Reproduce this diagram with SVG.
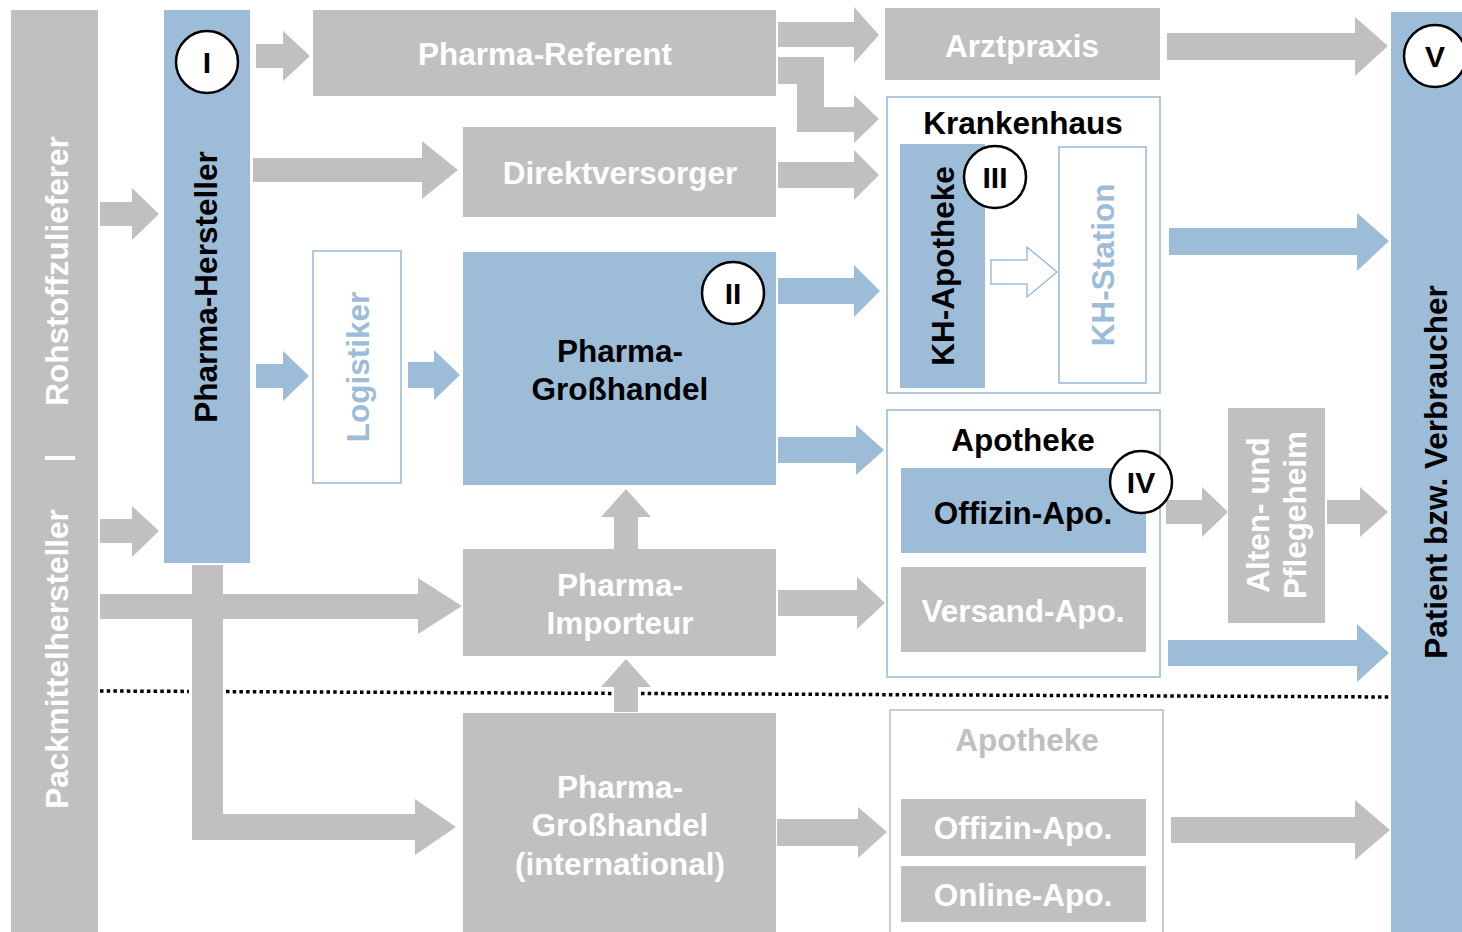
<svg xmlns="http://www.w3.org/2000/svg" width="1462" height="932" viewBox="0 0 1462 932">
  <style>
    text { font-family: "Liberation Sans", Arial, Helvetica, sans-serif; font-weight: bold; font-size: 31.5px; text-anchor: middle; }
    .g { fill: #c0c0c0; }
    .b { fill: #9dbcd8; }
    .frameB { fill: #ffffff; stroke: #9dbcd8; stroke-width: 1.6; }
    .frameG { fill: #ffffff; stroke: #c0c0c0; stroke-width: 1.6; }
    .tw { fill: #ffffff; }
    .tk { fill: #000000; }
    .tb { fill: #9dbcd8; }
    .tg { fill: #c0c0c0; }
    .badge circle { fill: #ffffff; stroke: #000000; stroke-width: 2.5; }
    .badge text { fill: #000000; font-size: 30px; }
    .dots { stroke: #000000; stroke-width: 3.5; stroke-dasharray: 3.5 3.2; fill: none; }
  </style>

  <!-- separator between domestic and international supply -->
  <g id="separator">
    <line class="dots" x1="100" y1="691" x2="189" y2="691.4"/>
    <line class="dots" x1="226" y1="691.6" x2="612" y2="693.4"/>
    <line class="dots" x1="641" y1="693.5" x2="1390" y2="697"/>
  </g>

  <!-- flow arrows -->
  <g id="connectors">
    <polygon class="g" points="100,202 132,202 132,188 159,214 132,240 132,226 100,226"/>
    <polygon class="g" points="100,519 132,519 132,506 159,531 132,557 132,543 100,543"/>
    <polygon class="g" points="256,44 283,44 283,31 310,56 283,81 283,68 256,68"/>
    <polygon class="g" points="253,158 422,158 422,141 458,170 422,199 422,182 253,182"/>
    <polygon class="b" points="256,364 283,364 283,351 309,376 283,401 283,388 256,388"/>
    <polygon class="b" points="408,362 434,362 434,350 460,375 434,400 434,388 408,388"/>
    <polygon class="g" points="100,594 418,594 418,578 462,606 418,634 418,619 100,619"/>
    <polygon class="g" points="192,565 223,565 223,814 415,814 415,799 456,827 415,855 415,840 192,840"/>
    <polygon class="g" points="614,549 614,517 601,517 626,489 651,517 638,517 638,549"/>
    <polygon class="g" points="614,712 614,687 601,687 626,659 651,687 638,687 638,712"/>
    <polygon class="g" points="778,22 854,22 854,7 879,35 854,63 854,47 778,47"/>
    <polygon class="g" points="778,57 824,57 824,107 854,107 854,95 879,119 854,143 854,132 797,132 797,84 778,84"/>
    <polygon class="g" points="778,162 854,162 854,150 879,175 854,200 854,188 778,188"/>
    <polygon class="b" points="778,278 854,278 854,265 880,291 854,317 854,304 778,304"/>
    <polygon class="b" points="778,437 856,437 856,425 884,450 856,475 856,463 778,463"/>
    <polygon class="g" points="778,590 857,590 857,577 885,603 857,629 857,616 778,616"/>
    <polygon class="g" points="777,819 858,819 858,807 887,832 858,858 858,846 777,846"/>
    <polygon class="g" points="1167,33 1355,33 1355,17 1388,46 1355,76 1355,60 1167,60"/>
    <polygon class="b" points="1169,228 1357,228 1357,213 1389,241 1357,271 1357,255 1169,255"/>
    <polygon class="g" points="1166,500 1202,500 1202,487 1228,512 1202,537 1202,524 1166,524"/>
    <polygon class="g" points="1327,500 1360,500 1360,487 1388,512 1360,537 1360,524 1327,524"/>
    <polygon class="b" points="1168,640 1357,640 1357,624 1389,653 1357,682 1357,666 1168,666"/>
    <polygon class="g" points="1171,817 1355,817 1355,800 1390,830 1355,860 1355,843 1171,843"/>
  </g>

  <!-- suppliers column -->
  <g id="zulieferer">
    <rect class="g" x="11" y="10" width="87" height="922"/>
    <g transform="translate(57,271) rotate(-90)"><text class="tw" y="11">Rohstoffzulieferer</text></g>
    <g transform="translate(57,458) rotate(-90)"><text class="tw" y="11">|</text></g>
    <g transform="translate(57,659) rotate(-90)"><text class="tw" y="11">Packmittelhersteller</text></g>
  </g>

  <g id="hersteller">
    <rect class="b" x="164" y="10" width="86" height="553"/>
    <g transform="translate(206,287) rotate(-90)"><text class="tk" y="11">Pharma-Hersteller</text></g>
    <g class="badge"><circle cx="207" cy="62" r="31"/><text x="207" y="73">I</text></g>
  </g>

  <g id="referent">
    <rect class="g" x="313" y="10" width="463" height="86"/>
    <text class="tw" x="545" y="65">Pharma-Referent</text>
  </g>

  <g id="direktversorger">
    <rect class="g" x="463" y="127" width="313" height="90"/>
    <text class="tw" x="620" y="184">Direktversorger</text>
  </g>

  <g id="logistiker">
    <rect class="frameB" x="313" y="251" width="88" height="232"/>
    <g transform="translate(358,367) rotate(-90)"><text class="tb" y="11">Logistiker</text></g>
  </g>

  <g id="grosshandel">
    <rect class="b" x="463" y="252" width="313" height="233"/>
    <text class="tk" x="620" y="362">Pharma-</text>
    <text class="tk" x="620" y="400">Großhandel</text>
    <g class="badge"><circle cx="733" cy="293" r="31"/><text x="733" y="304">II</text></g>
  </g>

  <g id="importeur">
    <rect class="g" x="463" y="549" width="313" height="107"/>
    <text class="tw" x="620" y="596">Pharma-</text>
    <text class="tw" x="620" y="634">Importeur</text>
  </g>

  <g id="grosshandel-international">
    <rect class="g" x="463" y="713" width="313" height="219"/>
    <text class="tw" x="620" y="798">Pharma-</text>
    <text class="tw" x="620" y="836">Großhandel</text>
    <text class="tw" x="620" y="875">(international)</text>
  </g>

  <g id="arztpraxis">
    <rect class="g" x="885" y="8" width="275" height="72"/>
    <text class="tw" x="1022" y="57">Arztpraxis</text>
  </g>

  <g id="krankenhaus">
    <rect class="frameB" x="887" y="97" width="273" height="296"/>
    <text class="tk" x="1023" y="134">Krankenhaus</text>
    <rect class="b" x="900" y="144" width="85" height="244"/>
    <g transform="translate(943,266) rotate(-90)"><text class="tk" y="11">KH-Apotheke</text></g>
    <rect class="frameB" x="1059" y="147" width="87" height="236"/>
    <g transform="translate(1103,265) rotate(-90)"><text class="tb" y="11">KH-Station</text></g>
    <polygon fill="#ffffff" stroke="#9dbcd8" stroke-width="1.5" points="991,260 1027,260 1027,247 1057,272 1027,297 1027,284 991,284"/>
    <g class="badge"><circle cx="995" cy="177" r="31"/><text x="995" y="188">III</text></g>
  </g>

  <g id="apotheke">
    <rect class="frameB" x="887" y="410" width="273" height="267"/>
    <text class="tk" x="1023" y="451">Apotheke</text>
    <rect class="b" x="901" y="468" width="245" height="85"/>
    <text class="tk" x="1023" y="524">Offizin-Apo.</text>
    <rect class="g" x="901" y="567" width="245" height="85"/>
    <text class="tw" x="1023" y="622">Versand-Apo.</text>
    <g class="badge"><circle cx="1141" cy="482" r="31"/><text x="1141" y="493">IV</text></g>
  </g>

  <g id="apotheke-international">
    <rect class="frameG" x="890" y="710" width="273" height="230"/>
    <text class="tg" x="1027" y="751">Apotheke</text>
    <rect class="g" x="901" y="799" width="245" height="57"/>
    <text class="tw" x="1023" y="839">Offizin-Apo.</text>
    <rect class="g" x="901" y="866" width="245" height="56"/>
    <text class="tw" x="1023" y="906">Online-Apo.</text>
  </g>

  <g id="pflegeheim">
    <rect class="g" x="1228" y="408" width="97" height="215"/>
    <g transform="translate(1258,515) rotate(-90)"><text class="tw" y="11">Alten- und</text></g>
    <g transform="translate(1295,515) rotate(-90)"><text class="tw" y="11">Pflegeheim</text></g>
  </g>

  <g id="patient">
    <rect class="b" x="1391" y="12" width="71" height="920"/>
    <g transform="translate(1436,472) rotate(-90)"><text class="tk" y="11">Patient bzw. Verbraucher</text></g>
    <g class="badge"><circle cx="1435" cy="56" r="31"/><text x="1435" y="67">V</text></g>
  </g>
</svg>
